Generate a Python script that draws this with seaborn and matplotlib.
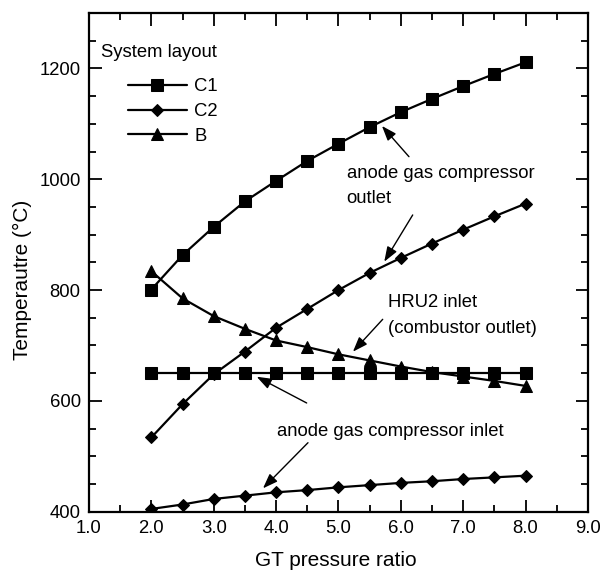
import matplotlib
matplotlib.use("Agg")
import matplotlib.pyplot as plt
import seaborn as sns
import numpy as np
from matplotlib.ticker import MultipleLocator

# ---- data ----
pressure_ratio = [2.0, 2.5, 3.0, 3.5, 4.0, 4.5, 5.0, 5.5, 6.0, 6.5, 7.0, 7.5, 8.0]
c1_agc_outlet = [801, 863, 914, 960, 997, 1033, 1064, 1094, 1121, 1145, 1168, 1190, 1211]
c1_hru2_inlet = [650, 650, 650, 650, 650, 650, 650, 650, 650, 650, 650, 650, 650]
c2_agc_outlet = [534, 594, 648, 689, 732, 766, 800, 831, 858, 884, 909, 933, 956]
c2_agc_inlet = [405, 413, 423, 429, 435, 439, 444, 448, 452, 455, 459, 462, 465]
b_hru2_inlet = [834, 785, 753, 730, 709, 697, 684, 673, 662, 652, 644, 636, 627]

legend_labels = ["C1", "C2", "B"]
legend_title = "System layout"
x_label = "GT pressure ratio"
y_label = "Temperautre (°C)"
x_ticks = [1.0, 2.0, 3.0, 4.0, 5.0, 6.0, 7.0, 8.0, 9.0]
y_ticks = [400, 600, 800, 1000, 1200]

sns.set_style("ticks")
plt.rcParams["font.family"] = ["Liberation Sans", "DejaVu Sans"]
plt.rcParams["text.color"] = "black"
plt.rcParams["axes.labelcolor"] = "black"
plt.rcParams["xtick.color"] = "black"
plt.rcParams["ytick.color"] = "black"
plt.rcParams["axes.edgecolor"] = "black"

fig = plt.figure(figsize=(6.02, 5.72), dpi=100)
ax = fig.add_axes([0.1478, 0.1054, 0.8289, 0.8719])

lw = 1.6
common = dict(color="k", lw=lw, markeredgecolor="k", markerfacecolor="k", ax=ax)
sns.lineplot(x=pressure_ratio, y=c1_agc_outlet, marker="s", markersize=8.5, label=legend_labels[0], **common)
sns.lineplot(x=pressure_ratio, y=c2_agc_outlet, marker="D", markersize=6.3, label=legend_labels[1], **common)
sns.lineplot(x=pressure_ratio, y=b_hru2_inlet, marker="^", markersize=9, label=legend_labels[2], **common)
sns.lineplot(x=pressure_ratio, y=c1_hru2_inlet, marker="s", markersize=8.5, legend=False, **common)
sns.lineplot(x=pressure_ratio, y=c2_agc_inlet, marker="D", markersize=6.3, legend=False, **common)

ax.set_xlim(1.0, 9.0)
ax.set_ylim(400, 1300)
ax.set_xticks(x_ticks)
ax.set_xticklabels([f"{t:.1f}" for t in x_ticks])
ax.set_yticks(y_ticks)
ax.xaxis.set_minor_locator(MultipleLocator(0.5))
ax.yaxis.set_minor_locator(MultipleLocator(50))
ax.tick_params(which="both", direction="in", top=True, right=True, width=1.3, labelsize=13.3, pad=6,
               colors="black")
ax.tick_params(which="major", length=9)
ax.tick_params(which="minor", length=5)
for s in ax.spines.values():
    s.set_linewidth(1.6)
    s.set_color("black")
    s.set_visible(True)

ax.set_xlabel(x_label, fontsize=15, color="black")
ax.set_ylabel(y_label, fontsize=15, color="black")
ax.xaxis.set_label_coords(0.495, -0.078)
ax.yaxis.set_label_coords(-0.114, 0.465)

# legend
handles, labels = ax.get_legend_handles_labels()
leg = ax.legend(handles, labels, loc="upper left", bbox_to_anchor=(0.078, 0.869),
                frameon=False, fontsize=13.3, handlelength=3.2, handletextpad=0.4,
                labelspacing=0.42, borderpad=0, borderaxespad=0)
for t in leg.get_texts():
    t.set_color("black")
ax.text(0.025, 0.921, legend_title, transform=ax.transAxes, fontsize=13.3,
        ha="left", va="center", color="black")

# annotations
fs = 13.3
ax.text(5.131, 1002.8, "anode gas compressor", fontsize=fs, ha="left", va="baseline")
ax.text(5.131, 956.6, "outlet", fontsize=fs, ha="left", va="baseline")
ax.text(5.794, 770, "HRU2 inlet", fontsize=fs, ha="left", va="baseline")
ax.text(5.794, 722, "(combustor outlet)", fontsize=fs, ha="left", va="baseline")
ax.text(4.008, 536.6, "anode gas compressor inlet", fontsize=fs, ha="left", va="baseline")

arrow_style = dict(arrowstyle="-|>,head_length=0.6,head_width=0.22", color="k", lw=1.0,
                   shrinkA=0, shrinkB=0, mutation_scale=15)
arrows = [
    ((5.697, 1096.1), (6.130, 1040.7)),
    ((5.734, 851.2), (6.190, 935.5)),
    ((5.232, 688.8), (5.709, 747.2)),
    ((3.689, 643.6), (4.490, 596.2)),
    ((3.790, 442.2), (4.511, 524.5)),
]
for tip, tail in arrows:
    ax.annotate("", xy=tip, xytext=tail, arrowprops=arrow_style)

fig.savefig("out.png", dpi=100)
